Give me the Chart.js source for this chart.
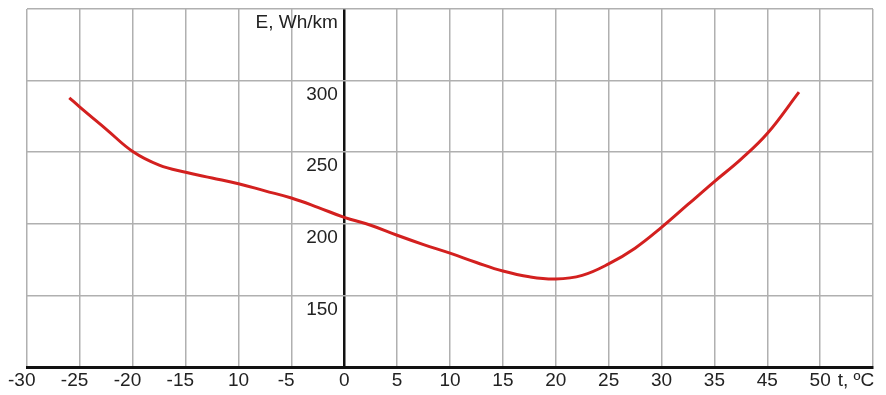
<!DOCTYPE html>
<html>
<head>
<meta charset="utf-8">
<script src="https://cdn.jsdelivr.net/npm/chart.js@4"></script>
<style>
  body { margin: 0; background: #fff; }
</style>
</head>
<body>
<canvas id="chart" width="886" height="395"></canvas>
<script>
// temperature (ºC) and energy use (Wh/km)
const temps = [-26, -25, -22.5, -20, -17.5, -15, -12.5, -10, -7.5, -5, -2.5, 0, 2.5, 5, 7.5, 10,
  12.5, 15, 17.5, 20, 22.5, 25, 27.5, 30, 32.5, 35, 37.5, 40, 43];
const energy = [288, 281.5, 266, 250.5, 241, 236, 232, 228, 223, 218, 211.5, 204.5, 199, 192, 185.5, 179.5,
  173, 167, 163, 161.5, 164, 172, 183, 197.5, 213.5, 229.5, 245, 263, 292];

// tick labels as printed on the original figure
const xTickLabels = ['-30', '-25', '-20', '-15', '10', '-5', '0', '5', '10', '15', '20', '25', '30', '35', '45', '50', ''];
const yTickLabels = ['', '150', '200', '250', '300', 'E, Wh/km'];
const xUnit = 't, ºC';

const FONT = "'Liberation Sans', Arial, sans-serif";
const gridGray = '#b0b0b0';

// draws the x unit label at the right end of the axis
const unitLabel = {
  id: 'unitLabel',
  afterDraw(chart) {
    const ctx = chart.ctx;
    const xScale = chart.scales.x;
    ctx.save();
    ctx.font = '19px ' + FONT;
    ctx.fillStyle = '#222';
    ctx.textAlign = 'center';
    ctx.textBaseline = 'middle';
    ctx.fillText(xUnit, 856, xScale.top + 14);
    ctx.restore();
  }
};

new Chart(document.getElementById('chart'), {
  type: 'line',
  data: {
    datasets: [{
      data: temps.map((t, i) => ({ x: t, y: energy[i] })),
      borderColor: '#d3201f',
      borderWidth: 3,
      pointRadius: 0,
      tension: 0.4,
      fill: false
    }]
  },
  options: {
    responsive: false,
    animation: false,
    layout: { padding: { left: 27, right: 13, top: 9, bottom: 0 } },
    plugins: { legend: { display: false }, tooltip: { enabled: false } },
    scales: {
      x: {
        type: 'linear',
        min: -30,
        max: 50,
        ticks: {
          stepSize: 5,
          padding: 3,
          color: '#222',
          font: { family: FONT, size: 19, lineHeight: 22 / 19 },
          maxRotation: 0,
          autoSkip: false,
          // negative labels sit a little left of their grid line in the original
          callback: (value, index) => {
            const label = xTickLabels[index];
            return label.startsWith('-') ? label + '  ' : label;
          }
        },
        grid: {
          drawTicks: false,
          lineWidth: ctx => ctx.tick && ctx.tick.value === 0 ? 2.5 : 1.5,
          color: ctx => ctx.tick && ctx.tick.value === 0 ? '#111' : gridGray
        },
        border: { display: true, color: '#111', width: 3 }
      },
      y: {
        type: 'linear',
        // labels sit just left of the zero line
        position: { x: -0.6 },
        min: 100,
        max: 350,
        ticks: {
          stepSize: 50,
          padding: 0,
          labelOffset: 14,
          color: '#222',
          font: { family: FONT, size: 19, lineHeight: 0.9 },
          callback: (value, index) => yTickLabels[index]
        },
        grid: {
          drawTicks: false,
          lineWidth: 1.5,
          color: ctx => ctx.tick && ctx.tick.value === 100 ? '#111' : gridGray
        },
        border: { display: false }
      }
    }
  },
  plugins: [unitLabel]
});
</script>
</body>
</html>
